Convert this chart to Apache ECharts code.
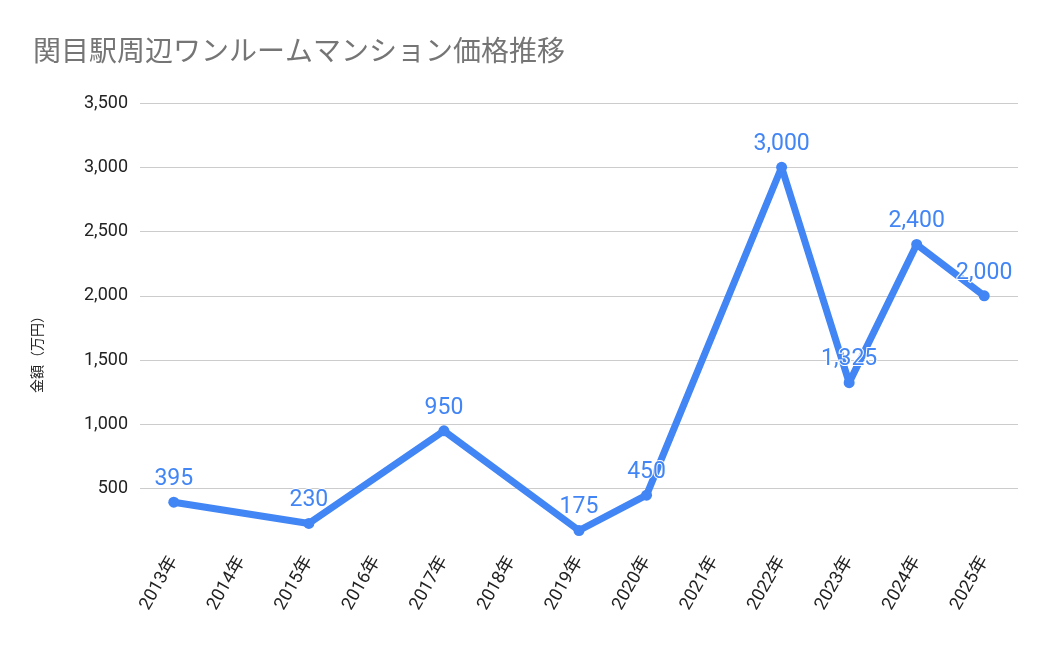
<!doctype html>
<html>
<head>
	<meta charset="utf-8">
	<title>関目駅周辺ワンルームマンション価格推移</title>
	<script src="https://cdn.jsdelivr.net/npm/echarts@6/dist/echarts.min.js"></script>
	<style>
		html, body { margin: 0; padding: 0; background: #fff; }
		#main { width: 1050px; height: 649px; }
	</style>
</head>
<body>
	<div id="main"></div>
	<script>
		// 年ごとの価格（万円）、データ無しの年は null
		var years = ['2013年', '2014年', '2015年', '2016年', '2017年', '2018年', '2019年',
			'2020年', '2021年', '2022年', '2023年', '2024年', '2025年'];
		var prices = [395, null, 230, null, 950, null, 175, 450, null, 3000, 1325, 2400, 2000];
		var yTicks = { min: 0, max: 3500, step: 500 };

		var fontJP = '"Noto Sans CJK JP", Roboto, sans-serif';
		var chart = echarts.init(document.getElementById('main'));
		var option = {
			title: {
				text: '関目駅周辺ワンルームマンション価格推移',
				left: 28,
				top: 31,
				textStyle: { color: '#757575', fontSize: 28, fontWeight: 'normal', fontFamily: fontJP }
			},
			grid: { left: 140, right: 32, top: 103, bottom: 96 },
			xAxis: {
				type: 'category',
				data: years,
				boundaryGap: true,
				axisLine: { show: false },
				axisTick: { show: false },
				axisLabel: {
					rotate: 60,
					interval: 0,
					margin: 5,
					color: '#222',
					fontSize: 18,
					fontFamily: 'Roboto, "Noto Sans CJK JP", sans-serif'
				}
			},
			yAxis: {
				type: 'value',
				min: yTicks.min,
				max: yTicks.max,
				interval: yTicks.step,
				name: '金額（万円）',
				nameLocation: 'middle',
				nameGap: 96,
				nameRotate: 90,
				// 名前を少し下へずらす
				nameTextStyle: { color: '#222', fontSize: 14, fontFamily: fontJP, padding: [0, 46, 0, 0] },
				axisLine: { show: false },
				axisTick: { show: false },
				axisLabel: {
					showMinLabel: false,
					margin: 12,
					color: '#222',
					fontSize: 18,
					fontFamily: 'Roboto, sans-serif',
					formatter: function (v) { return v.toLocaleString('en-US'); }
				},
				splitLine: { showMinLine: false, lineStyle: { color: '#cccccc', width: 1 } }
			},
			series: [{
				type: 'line',
				data: prices,
				connectNulls: true,
				symbol: 'circle',
				symbolSize: 11,
				color: '#4285F4',
				lineStyle: { width: 7, color: '#4285F4' },
				label: {
					show: true,
					position: 'top',
					distance: 6,
					color: '#4285F4',
					fontSize: 23,
					fontFamily: 'Roboto, sans-serif',
					textBorderColor: '#fff',
					textBorderWidth: 2,
					formatter: function (p) { return p.value.toLocaleString('en-US'); }
				},
				animation: false
			}]
		};
		chart.setOption(option);
	</script>
</body>
</html>
